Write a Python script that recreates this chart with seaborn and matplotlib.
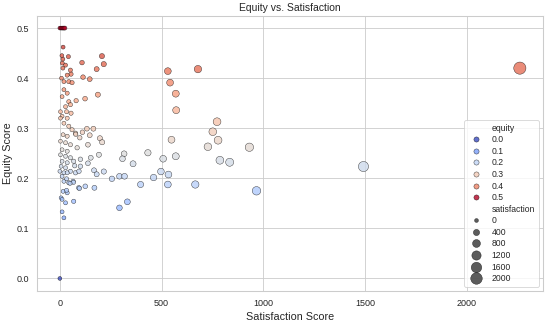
import pandas as pd
import matplotlib.pyplot as plt
import seaborn as sns

# satisfaction / equity pairs
satisfaction = [
    0, 5, 10, 15, 20, 25, 0,
    16, 10, 15, 12, 42, 28, 15, 52, 55, 36, 20, 44, 60, 8, 20, 36, 11, 44,
    28, 52, 3, 33, 55, 11, 3, 36, 20, 44, 60, 77, 98, 133, 16, 36, 3, 28,
    52, 85, 11, 36, 3, 28, 52, 11, 36, 68, 6, 28, 101, 52, 0, 20, 77, 36,
    11, 20, 44, 65, 93, 125, 170, 16, 36, 33, 6, 11, 68, 28, 11, 20,
    207, 216, 109, 181, 114, 147, 187, 124, 80, 165, 111, 78, 197, 208,
    147, 138, 192, 152, 101, 138, 73, 94, 216, 168, 181, 96, 67, 50, 33,
    531, 679, 542, 570, 572, 773, 752, 778, 728, 932, 787, 835, 549, 433,
    316, 308, 360, 508, 570, 293, 318, 461, 497, 534, 397, 531, 666, 332,
    293, 256, 967, 1493, 2262,
]
equity = [
    0.5, 0.5, 0.5, 0.5, 0.5, 0.5, 0.0,
    0.462, 0.445, 0.438, 0.43, 0.443, 0.426, 0.42, 0.416, 0.408, 0.406,
    0.393, 0.393, 0.391, 0.40, 0.377, 0.370, 0.363, 0.353,
    0.343, 0.347, 0.333, 0.333, 0.330, 0.324, 0.320, 0.320, 0.310, 0.304,
    0.297, 0.290, 0.281, 0.299, 0.287, 0.284, 0.274, 0.271,
    0.267, 0.261, 0.257, 0.254, 0.247, 0.244, 0.241, 0.234, 0.231, 0.234,
    0.224, 0.221, 0.224, 0.214, 0.214, 0.211, 0.211, 0.211,
    0.204, 0.194, 0.191, 0.194, 0.181, 0.184, 0.181, 0.174, 0.171, 0.176,
    0.161, 0.158, 0.154, 0.151, 0.133, 0.121,
    0.444, 0.428, 0.431, 0.418, 0.402, 0.398, 0.367, 0.359, 0.355, 0.299,
    0.292, 0.288, 0.280, 0.272, 0.286, 0.267, 0.247, 0.241, 0.238, 0.230,
    0.225, 0.214, 0.2135, 0.216, 0.208, 0.180, 0.192, 0.190, 0.199,
    0.414, 0.418, 0.391, 0.369, 0.336, 0.313, 0.293, 0.276, 0.263, 0.262,
    0.236, 0.232, 0.277, 0.251,
    0.249, 0.239, 0.229, 0.239, 0.244, 0.204, 0.204, 0.2015, 0.2135,
    0.2075, 0.1876, 0.1876, 0.1876, 0.153,
    0.141, 0.199, 0.175, 0.2235, 0.420,
]

df = pd.DataFrame({"satisfaction": satisfaction, "equity": equity})

sns.set_theme(style="whitegrid")
plt.rcParams["font.family"] = ["Liberation Sans", "DejaVu Sans"]
fig, ax = plt.subplots(figsize=(550 / 62, 324 / 62), dpi=62)

sns.scatterplot(data=df, x="satisfaction", y="equity", hue="equity", size="satisfaction",
                palette="coolwarm", sizes=(20, 200), edgecolor="black", linewidth=0.5,
                alpha=0.8, ax=ax)

ax.set_title("Equity vs. Satisfaction", fontsize=12, pad=5)
ax.set_xlabel("Satisfaction Score", fontsize=12.5)
ax.set_ylabel("Equity Score", fontsize=12.5)
ax.tick_params(labelsize=10.5)
ax.legend(loc="lower right", fontsize=10, labelspacing=0.3)
fig.subplots_adjust(left=0.067, right=0.987, top=0.952, bottom=0.102)
plt.savefig("out.png", dpi=62)
